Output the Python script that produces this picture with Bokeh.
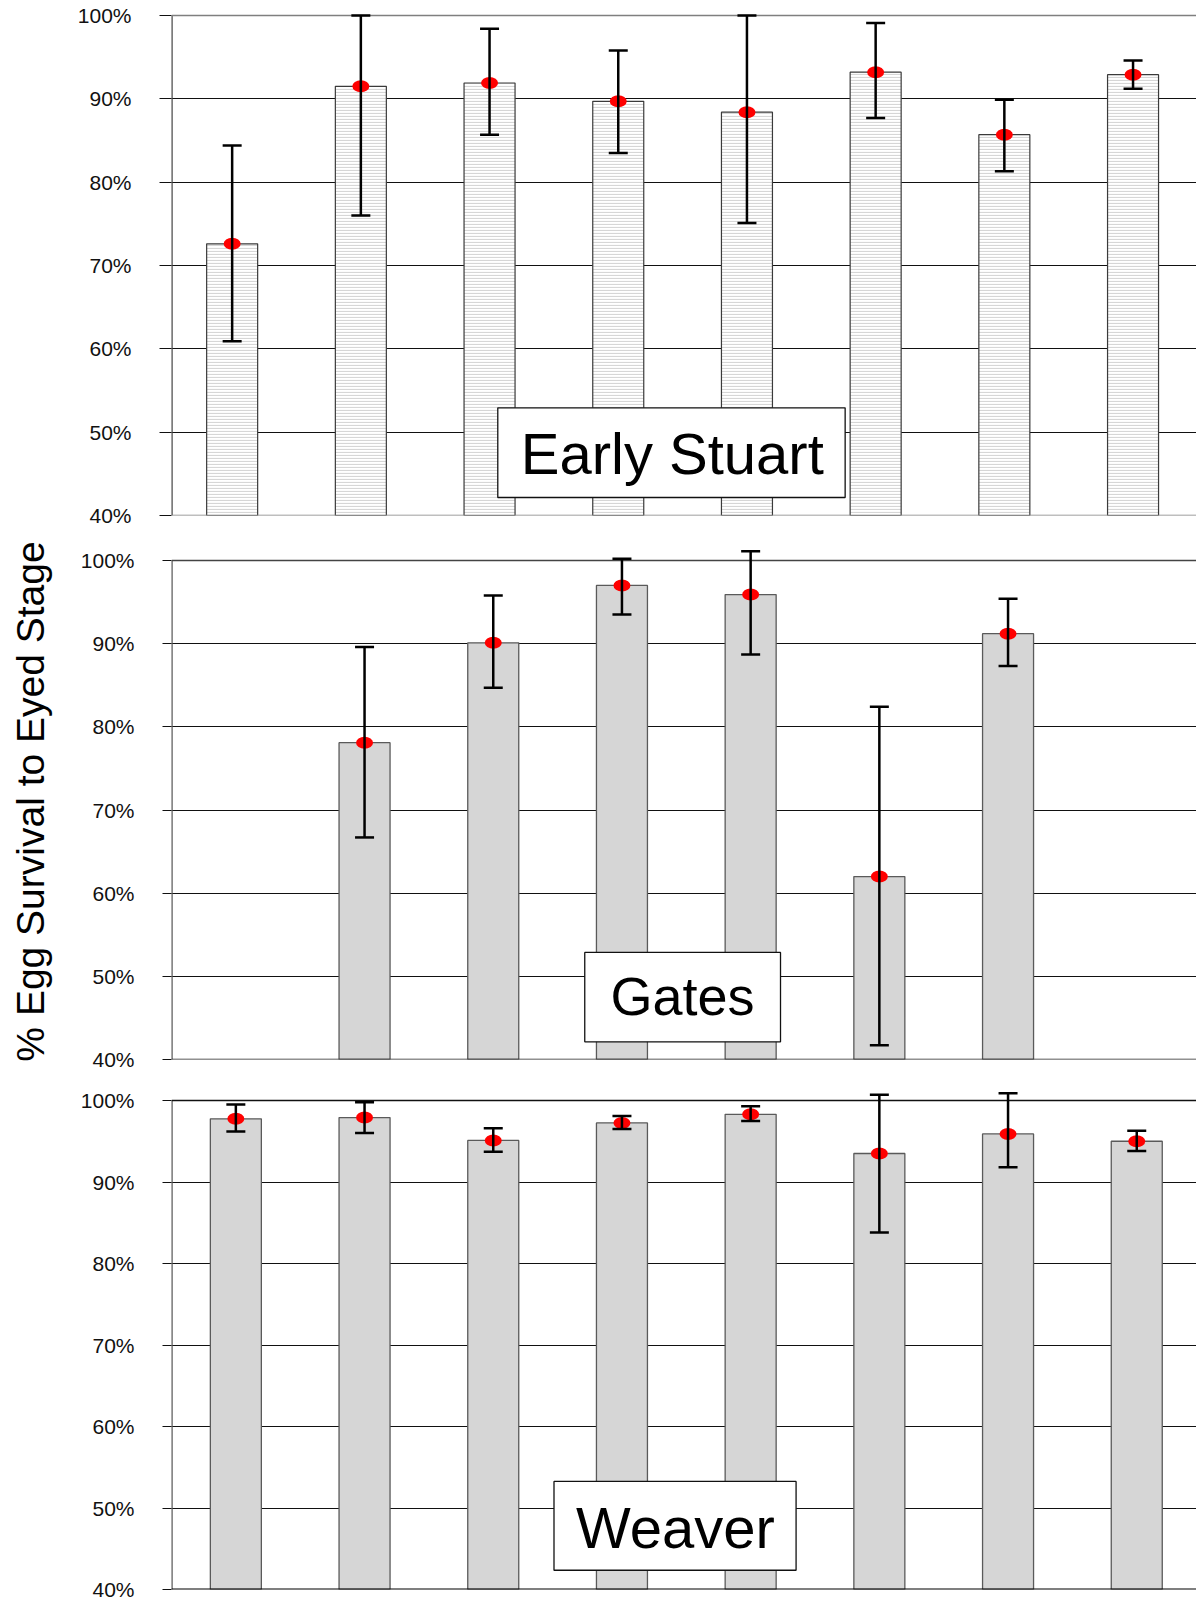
from bokeh.plotting import figure
from bokeh.models import (Range1d, FixedTicker, PrintfTickFormatter, Span, Whisker,
                          TeeHead, ColumnDataSource, BoxAnnotation, Label)
from bokeh.layouts import column
from bokeh.embed import file_html
from bokeh.resources import INLINE

# ---- data (percent egg survival to eyed stage, one bar per group) ----
positions = [0.5, 1.5, 2.5, 3.5, 4.5, 5.5, 6.5, 7.5]

stuart_mean = [72.6, 91.5, 91.9, 89.7, 88.4, 93.2, 85.7, 92.9]
stuart_upper = [84.4, 100.0, 98.4, 95.8, 100.0, 99.1, 89.9, 94.6]
stuart_lower = [60.9, 76.0, 85.7, 83.5, 75.1, 87.7, 81.3, 91.2]

gates_mean = [None, 78.1, 90.1, 97.0, 95.9, 62.0, 91.2, None]
gates_upper = [None, 89.6, 95.8, 100.2, 101.1, 82.4, 95.4, None]
gates_lower = [None, 66.7, 84.7, 93.5, 88.7, 41.7, 87.3, None]

weaver_mean = [97.75, 97.9, 95.1, 97.25, 98.3, 93.5, 95.9, 95.0]
weaver_upper = [99.5, 99.8, 96.6, 98.1, 99.3, 100.7, 100.9, 96.3]
weaver_lower = [96.2, 96.0, 93.7, 96.5, 97.5, 83.8, 91.8, 93.8]

y_ticks = [40, 50, 60, 70, 80, 90, 100]
grid_ticks = [50, 60, 70, 80, 90]

FONT = "Liberation Sans"
WIDTH = 1196
LEFT = 171
SLOT_PX = 128.7  # pixel width of one category slot


def panel(height, top, bottom, span_px, x_start, axis_color, top_line, bottom_line,
          standoff, tick_out):
    # span_px: pixel height of the 40%..100% band; the frame reaches a bit
    # above 100% so error bars that overshoot it stay visible
    frame_h = height - top - bottom
    y_top = 40 + frame_h * 60.0 / span_px
    p = figure(width=WIDTH, height=height,
               x_range=Range1d(x_start, x_start + (WIDTH - LEFT) / SLOT_PX),
               y_range=Range1d(40, y_top),
               output_backend="svg", toolbar_location=None,
               min_border_left=LEFT, min_border_right=0,
               min_border_top=top, min_border_bottom=bottom)
    p.outline_line_color = None
    p.xaxis.visible = False
    p.xgrid.visible = False
    p.ygrid.ticker = FixedTicker(ticks=grid_ticks)
    p.ygrid.grid_line_color = "#111111"
    p.ygrid.grid_line_width = 1
    ax = p.yaxis[0]
    ax.ticker = FixedTicker(ticks=y_ticks)
    ax.formatter = PrintfTickFormatter(format="%d%%")
    ax.major_tick_in = 0
    ax.major_tick_out = tick_out
    ax.major_tick_line_color = "#111111"
    ax.minor_tick_line_color = None
    ax.axis_line_color = None
    ax.major_label_standoff = standoff
    ax.major_label_text_font = FONT
    ax.major_label_text_font_size = "21px"
    ax.major_label_text_color = "#111111"
    # vertical axis line running only from 40% to 100%
    p.segment(x0=[x_start], y0=[40], x1=[x_start], y1=[100],
              line_color=axis_color, line_width=2.4)
    p.add_layout(Span(location=100, dimension="width",
                      line_color=top_line[0], line_width=top_line[1]))
    p.add_layout(Span(location=40, dimension="width",
                      line_color=bottom_line[0], line_width=bottom_line[1]))
    return p


def draw_series(p, mean, upper, lower, bar_style):
    keep = [i for i, m in enumerate(mean) if m is not None]
    xs = [positions[i] for i in keep]
    ms = [mean[i] for i in keep]
    ups = [upper[i] for i in keep]
    los = [lower[i] for i in keep]
    p.vbar(x=xs, top=ms, bottom=40, width=51 / SLOT_PX, **bar_style)
    p.ellipse(x=xs, y=ms, width=17, height=12, width_units="screen",
              height_units="screen", fill_color="#ff0000", line_color=None)
    src = ColumnDataSource(dict(base=xs, upper=ups, lower=los))
    head = dict(size=19, line_width=2.5, line_color="black")
    p.add_layout(Whisker(source=src, base="base", upper="upper", lower="lower",
                         line_width=2.5, line_color="black", level="annotation",
                         upper_head=TeeHead(**head), lower_head=TeeHead(**head)))


def name_box(p, left, right, top, bottom, x, y, text, size):
    p.add_layout(BoxAnnotation(left=left, right=right, top=top, bottom=bottom,
                               fill_color="white", fill_alpha=1.0,
                               line_color="#111111", line_width=1.3, line_alpha=1.0))
    # y is the vertical centre of the capital letters
    p.add_layout(Label(x=x, y=y, text=text, text_font=FONT, text_font_size=size,
                       text_align="center", text_baseline="alphabetic",
                       text_color="black"))


# ---- Early Stuart (its bars sit a few pixels further left) ----
x0_stuart = 3.7 / SLOT_PX
p1 = panel(537, 4, 22, 500, x0_stuart, "#444444", ("#7f7f7f", 1.6), ("#7f7f7f", 1.6), 28, 12)
draw_series(p1, stuart_mean, stuart_upper, stuart_lower,
            dict(fill_color="white", line_color="#3a3a3a", line_width=1.2,
                 hatch_pattern="horizontal_line", hatch_color="#d6d6d6",
                 hatch_scale=3, hatch_weight=1.2))
name_box(p1, 2.564, 5.263, 52.92, 42.16, 3.92, 47.41, "Early Stuart", "58px")

# ---- Gates ----
p2 = panel(543, 6, 21, 499, 0, "#555555", ("#444444", 1.3), ("#222222", 1.3), 28, 9)
draw_series(p2, gates_mean, gates_upper, gates_lower,
            dict(fill_color="#d6d6d6", line_color="#5a5a5a", line_width=1.3))
name_box(p2, 3.211, 4.732, 52.87, 42.13, 3.971, 47.66, "Gates", "54px")
p2.yaxis[0].axis_label = "% Egg Survival to Eyed Stage"
p2.yaxis[0].axis_label_text_font = FONT
p2.yaxis[0].axis_label_text_font_size = "39px"
p2.yaxis[0].axis_label_text_font_style = "normal"
p2.yaxis[0].axis_label_text_color = "black"
p2.yaxis[0].axis_label_standoff = 26

# ---- Weaver ----
p3 = panel(522, 4, 13, 489, 0, "#555555", ("#111111", 1.3), ("#000000", 2.2), 28, 9)
draw_series(p3, weaver_mean, weaver_upper, weaver_lower,
            dict(fill_color="#d6d6d6", line_color="#5a5a5a", line_width=1.3))
name_box(p3, 2.972, 4.853, 53.26, 42.36, 3.916, 47.56, "Weaver", "58px")

layout = column(p1, p2, p3, spacing=0)

with open("out.html", "w") as f:
    f.write(file_html(layout, INLINE))
